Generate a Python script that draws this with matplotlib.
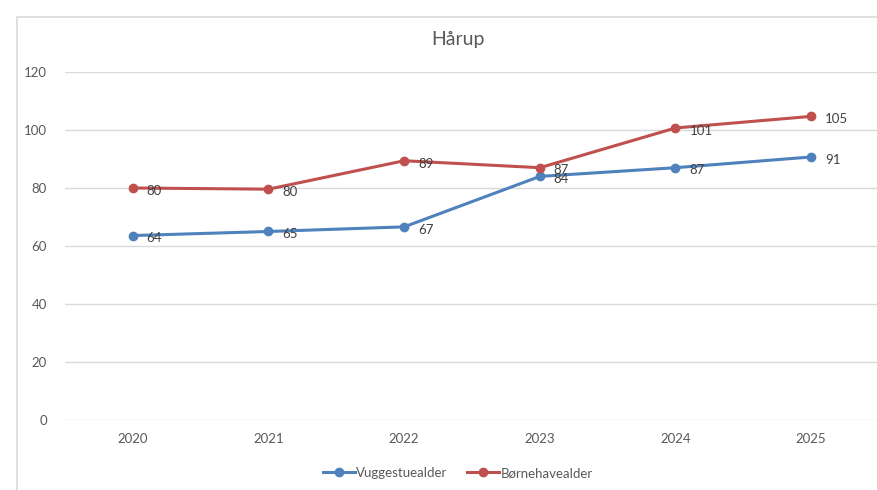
import matplotlib.pyplot as plt
from matplotlib.patches import Rectangle
from matplotlib.lines import Line2D

years = ["2020", "2021", "2022", "2023", "2024", "2025"]
vuggestue = [63.6, 65.0, 66.6, 84.0, 87.0, 90.7]
boernehave = [80.0, 79.6, 89.4, 87.0, 100.7, 104.7]
series_names = ["Vuggestuealder", "Børnehavealder"]
y_ticks = [0, 20, 40, 60, 80, 100, 120]

BLUE = "#4F81BD"
RED = "#C0504D"
TXT = "#595959"
GRID = "#D9D9D9"

plt.rcParams['font.family'] = ['Lato', 'DejaVu Sans']

W, H = 877, 490
fig = plt.figure(figsize=(W / 100, H / 100), dpi=100)

# chart border (light grey frame, cut at right/bottom)
fig.patches.append(Rectangle((17 / W, -0.1), 1.2, 1.1 - 17 / H + 0.0,
                             transform=fig.transFigure, fill=False,
                             edgecolor="#D9D9D9", linewidth=1.2))

ax = fig.add_axes([65 / W, 70 / H, (879 - 65) / W, (420 - 72) / H])
x = list(range(len(years)))

for vals, col, name in [(vuggestue, BLUE, series_names[0]),
                        (boernehave, RED, series_names[1])]:
    ax.plot(x, vals, color=col, linewidth=2.2, marker='o', markersize=6,
            label=name, solid_capstyle='round', zorder=3)
    for xi, v in zip(x, vals):
        ax.annotate(f"{v:.0f}", (xi, v), xytext=(10, -2), textcoords='offset points',
                    ha='left', va='center', fontsize=9.5, color="#404040", zorder=4)

ax.set_xlim(-0.5, len(years) - 0.5)
ax.set_ylim(0, 120)
ax.set_yticks(y_ticks)
ax.set_xticks(x)
ax.set_xticklabels(years)
ax.tick_params(axis='both', length=0, labelsize=9.5, labelcolor=TXT)
ax.tick_params(axis='y', pad=13)
ax.tick_params(axis='x', pad=9)
ax.grid(axis='y', color=GRID, linewidth=1)
ax.set_axisbelow(True)
for s in ax.spines.values():
    s.set_visible(False)

fig.text(458 / W, 1 - 40 / H, "Hårup", ha='center', va='center',
         fontsize=14, color=TXT)

handles = [Line2D([], [], color=BLUE, lw=2.2, marker='o', markersize=6),
           Line2D([], [], color=RED, lw=2.2, marker='o', markersize=6)]
fig.legend(handles, series_names, loc='center', bbox_to_anchor=(458 / W, 1 - 473 / H),
           ncol=2, frameon=False, fontsize=9.5, labelcolor=TXT,
           handlelength=2.4, handletextpad=0.1, columnspacing=1.5)

fig.savefig("out.png", dpi=100)
